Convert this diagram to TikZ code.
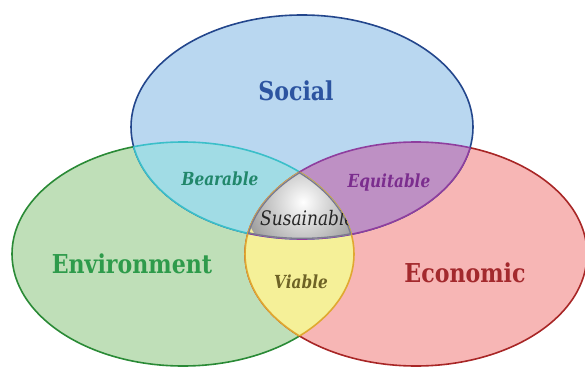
\documentclass[tikz,border=0pt]{standalone}
\usepackage{fontspec}
\setmainfont{DejaVu Serif}[FakeStretch=0.85]

\definecolor{socfill}{HTML}{B9D7F0}
\definecolor{socline}{HTML}{23468C}
\definecolor{soctext}{HTML}{2C54A0}
\definecolor{envfill}{HTML}{BFDFB8}
\definecolor{envline}{HTML}{2A8A36}
\definecolor{envtext}{HTML}{2E9B4B}
\definecolor{ecofill}{HTML}{F7B6B5}
\definecolor{ecoline}{HTML}{A82626}
\definecolor{ecotext}{HTML}{A3292D}
\definecolor{bearfill}{HTML}{A1DCE5}
\definecolor{bearline}{HTML}{3BBFC9}
\definecolor{beartext}{HTML}{21876B}
\definecolor{equifill}{HTML}{BE90C4}
\definecolor{equiline}{HTML}{8F3E9E}
\definecolor{equitext}{HTML}{7B2D8E}
\definecolor{viafill}{HTML}{F5F098}
\definecolor{vialine}{HTML}{E0A830}
\definecolor{viatext}{HTML}{6E6326}
\definecolor{susline}{HTML}{7A7A8E}

\begin{document}
\begin{tikzpicture}[x=1pt, y=-1pt, ring/.style = {x radius=171pt, y radius=112pt}, edge/.style = {line width=1.6pt}, title/.style = {font=\bfseries\fontsize{26}{26}\selectfont}, overlap/.style = {font=\bfseries\itshape\fontsize{18}{18}\selectfont}]

    \useasboundingbox (0,0) rectangle (585,366);

    % centres
    \coordinate (soc) at (302,127);
    \coordinate (env) at (183,254);
    \coordinate (eco) at (416,254);

    % sets
    \filldraw[fill=envfill, draw=envline, edge] (env) ellipse [ring];
    \filldraw[fill=ecofill, draw=ecoline, edge] (eco) ellipse [ring];
    \filldraw[fill=socfill, draw=socline, edge] (soc) ellipse [ring];

    % pairs
    \begin{scope}
        \clip (soc) ellipse [ring];
        \fill[bearfill] (env) ellipse [ring];
        \fill[equifill] (eco) ellipse [ring];
        \draw[bearline, edge] (env) ellipse [ring];
        \draw[equiline, edge] (eco) ellipse [ring];
    \end{scope}
    \begin{scope}
        \clip (env) ellipse [ring];
        \fill[viafill] (eco) ellipse [ring];
        \draw[bearline, edge] (soc) ellipse [ring];
        \draw[vialine, edge] (eco) ellipse [ring];
    \end{scope}
    \begin{scope}
        \clip (eco) ellipse [ring];
        \draw[equiline, edge] (soc) ellipse [ring];
        \draw[vialine, edge] (env) ellipse [ring];
    \end{scope}

    % all three
    \begin{scope}
        \clip (soc) ellipse [ring];
        \clip (env) ellipse [ring];
        \clip (eco) ellipse [ring];
        \shade[inner color=white, outer color=black!38] (303,202) circle [radius=58pt];
        \draw[susline, line width=2.6pt] (soc) ellipse [ring];
        \draw[susline, line width=2.6pt] (env) ellipse [ring];
        \draw[susline, line width=2.6pt] (eco) ellipse [ring];
        \node[font=\itshape\fontsize{20}{20}\selectfont, text=black!85, anchor=base west, inner sep=0pt] (sustainable) at (260,225) {Susainable};
    \end{scope}

    % labels
    \node[title, text=soctext] (social) at (296,91) {Social};
    \node[title, text=envtext] (environment) at (132,264) {Environment};
    \node[title, text=ecotext] (economic) at (465,273) {Economic};
    \node[overlap, text=beartext] (bearable) at (220,179) {Bearable};
    \node[overlap, text=equitext] (equitable) at (389,183) {Equitable};
    \node[overlap, text=viatext] (viable) at (301,282) {Viable};

\end{tikzpicture}
\end{document}
